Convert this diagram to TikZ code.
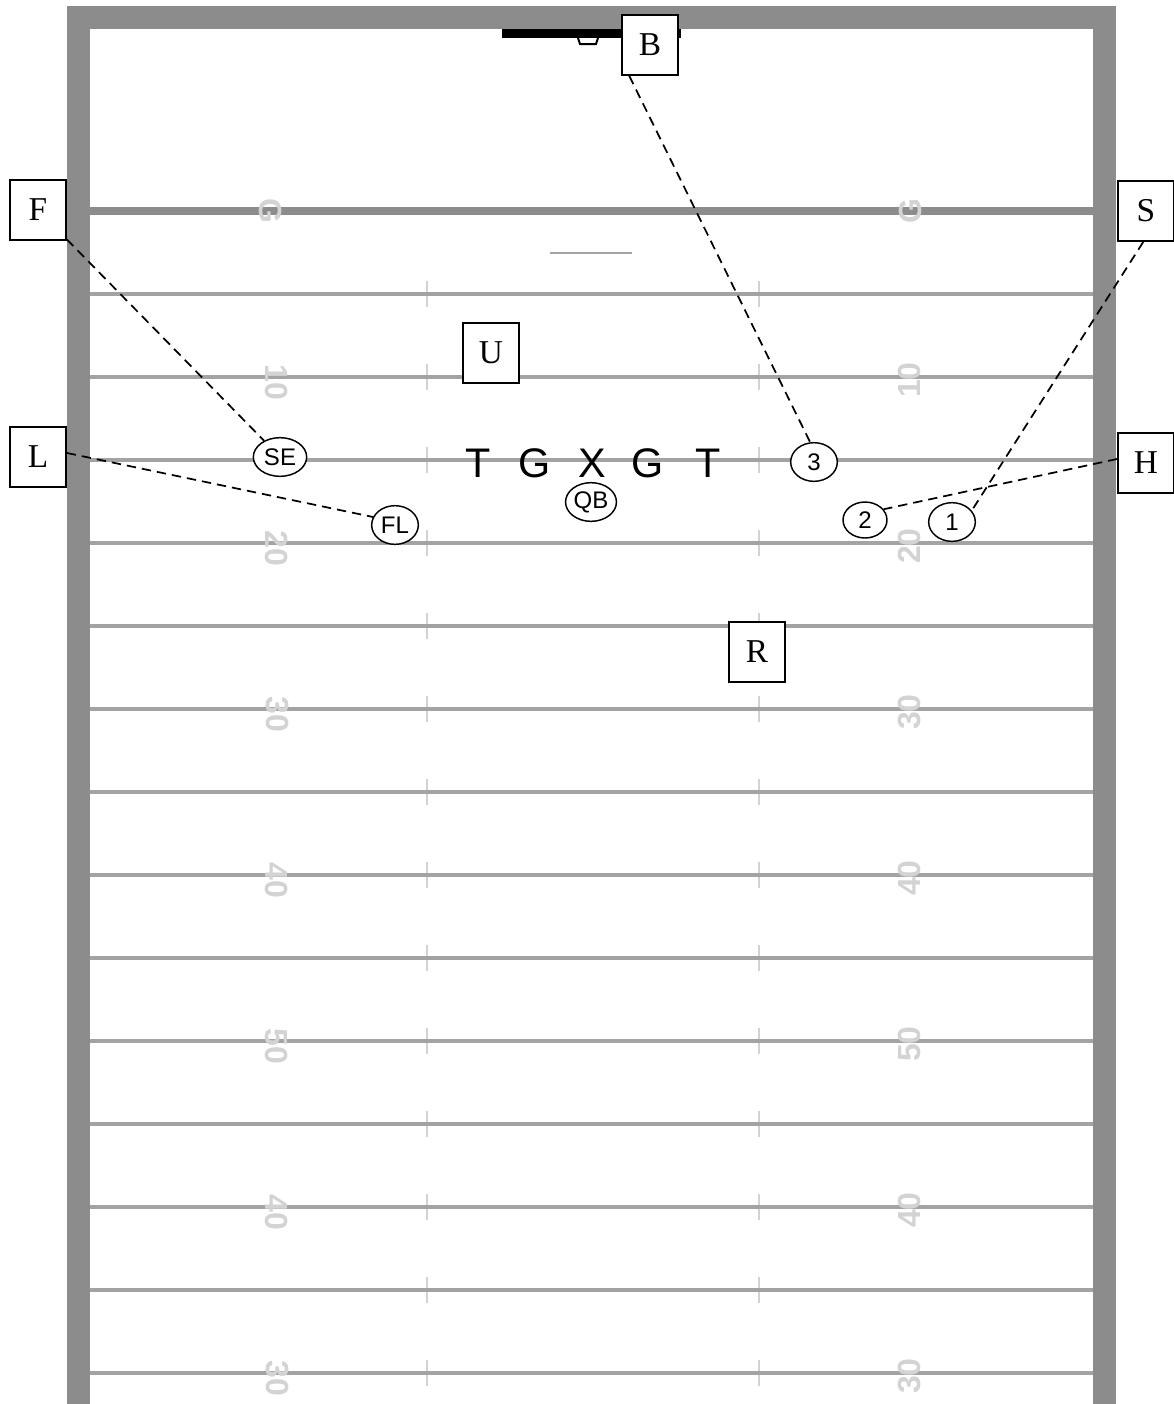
\documentclass[tikz,border=0pt]{standalone}
\usepackage{fontspec}
\setmainfont{Liberation Serif}
\setsansfont{Liberation Sans}
\usetikzlibrary{shapes.geometric}
\definecolor{frame1}{HTML}{8C8C8C}
\definecolor{line1}{HTML}{A3A3A3}
\definecolor{hash1}{HTML}{D2D2D2}
\definecolor{num1}{HTML}{D3D3D3}
\definecolor{ink}{HTML}{000000}
\tikzset{
  spot/.style={draw=ink,fill=white,line width=1.2pt,minimum width=42pt,
               minimum height=45pt,inner sep=0pt,font=\fontsize{25}{25}\selectfont},
  rcv/.style={ellipse,draw=ink,fill=white,line width=1.1pt,minimum width=35pt,
              minimum height=29pt,inner sep=0.5pt,font=\sffamily\fontsize{18}{18}\selectfont},
  lineman/.style={font=\sffamily\fontsize{31}{31}\selectfont,inner sep=0pt},
  route/.style={draw=ink,line width=1.3pt,dash pattern=on 7pt off 4.5pt},
  yardnum/.style={text=num1,font=\sffamily\bfseries\fontsize{24}{24}\selectfont,inner sep=0pt}
}
\begin{document}
\begin{tikzpicture}[x=0.75pt,y=-0.75pt]
  \useasboundingbox (0,0) rectangle (1174,1404);
  % frame
  \fill[frame1] (67,6) rectangle (90,1404);
  \fill[frame1] (1093,6) rectangle (1116,1404);
  \fill[frame1] (67,6) rectangle (1116,29);
  % goal line and two-yard mark
  \fill[frame1] (90,207) rectangle (1093,215);
  \draw[line1,line width=1.8pt] (550,253) -- (632,253);
  \node[yardnum,rotate=-90] at (271,211) {G};
  \node[yardnum,rotate=90] at (910,211) {G};
  % yard lines with hash marks
  \foreach \y in {294,377,...,1373}{
    \draw[hash1,line width=1.5pt] (427,\y-13) -- (427,\y+13);
    \draw[hash1,line width=1.5pt] (759,\y-13) -- (759,\y+13);
    \draw[line1,line width=3pt] (90,\y) -- (1093,\y);
  }
  % yard numbers
  \foreach \y/\n in {377/10,543/20,709/30,875/40,1041/50,1207/40,1373/30}{
    \node[yardnum,rotate=-90] at (277,\y+5) {\n};
    \node[yardnum,rotate=90] at (909,\y+3) {\n};
  }
  % goal post
  \fill[ink] (502,29) rectangle (681,38);
  \draw[ink,line width=1.5pt] (578,38) -- (580,44) -- (596,44) -- (598,38);
  % offense
  \foreach \x/\t in {478/T,535/G,592/X,648/G,708/T}{
    \node[lineman] at (\x,463) {\t};
  }
  \node[rcv] (qb) at (591,502) {QB};
  \node[rcv,minimum width=40pt] (se) at (280,457) {SE};
  \node[rcv] (fl) at (395,525) {FL};
  \node[rcv] (rcv3) at (814,462) {3};
  \node[rcv,minimum width=33pt,minimum height=27pt] (rcv2) at (865,520) {2};
  \node[rcv] (rcv1) at (952,522) {1};
  % defense
  \node[spot] (B) at (650,45) {B};
  \node[spot] (F) at (38,210) {F};
  \node[spot] (S) at (1146,211) {S};
  \node[spot] (U) at (491,353) {U};
  \node[spot] (L) at (38,457) {L};
  \node[spot] (H) at (1146,463) {H};
  \node[spot] (R) at (757,652) {R};
  % coverage
  \draw[route] (B.236) -- (rcv3.101);
  \draw[route] (F) -- (se);
  \draw[route] (L.8) -- (fl.160);
  \draw[route] (S.265) -- (rcv1.30);
  \draw[route] (H.172) -- (rcv2.30);
\end{tikzpicture}
\end{document}
